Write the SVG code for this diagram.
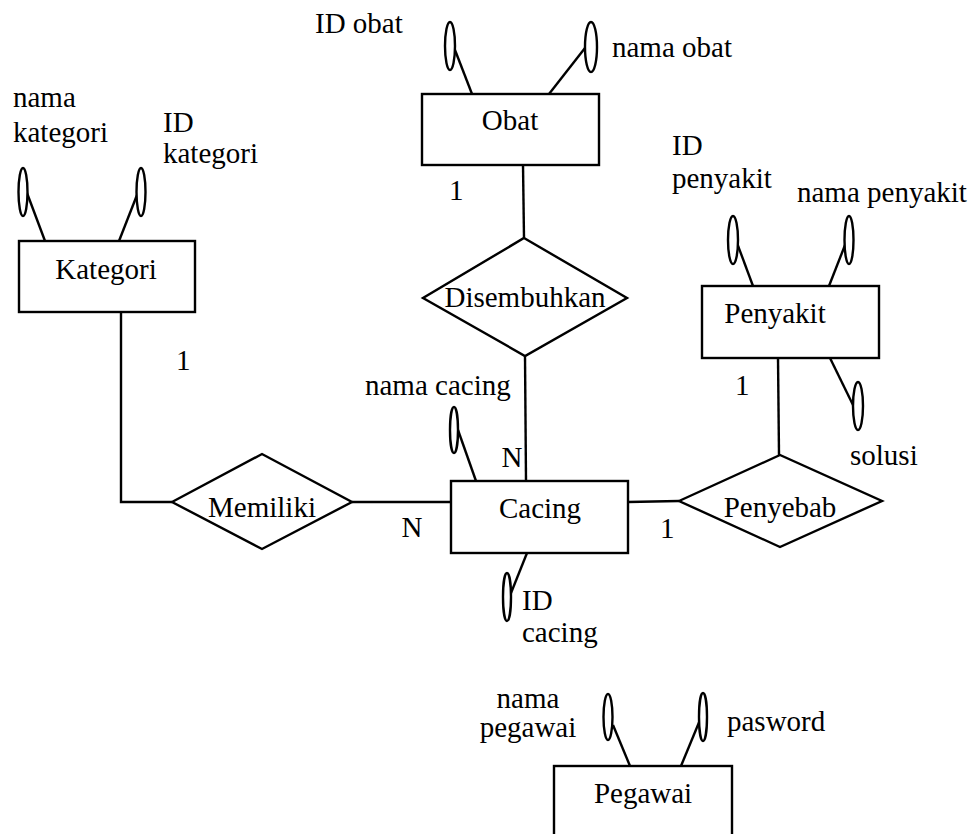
<svg xmlns="http://www.w3.org/2000/svg" width="976" height="834" viewBox="0 0 976 834">
<style>
text{font-family:'Liberation Serif','Times New Roman','DejaVu Serif',serif;font-size:29px;fill:#000}
.m{text-anchor:middle}
.box{fill:#fff;stroke:#000;stroke-width:2.4}
.rel{fill:#fff;stroke:#000;stroke-width:2.4}
.att{fill:#fff;stroke:#000;stroke-width:2.4}
.ln{fill:none;stroke:#000;stroke-width:2.4}
</style>
<rect width="976" height="834" fill="#fff"/>
<g id="connectors">
<polyline class="ln" points="121,312 121,502 172,502"/>
<line class="ln" x1="352" y1="502" x2="451" y2="502"/>
<line class="ln" x1="628" y1="502" x2="679" y2="501"/>
<line class="ln" x1="523" y1="165" x2="524" y2="238"/>
<line class="ln" x1="525" y1="356" x2="526" y2="481"/>
<line class="ln" x1="778" y1="358" x2="779" y2="455"/>
<line class="ln" x1="27" y1="193" x2="45" y2="241"/>
<line class="ln" x1="137" y1="195" x2="119" y2="241"/>
<line class="ln" x1="455" y1="50" x2="472" y2="94"/>
<line class="ln" x1="585" y1="48" x2="549" y2="94"/>
<line class="ln" x1="737" y1="243" x2="753" y2="286"/>
<line class="ln" x1="847" y1="240" x2="829" y2="286"/>
<line class="ln" x1="830" y1="358" x2="853" y2="405"/>
<line class="ln" x1="458" y1="430" x2="476" y2="481"/>
<line class="ln" x1="527" y1="553" x2="511" y2="593"/>
<line class="ln" x1="613" y1="725" x2="630" y2="766"/>
<line class="ln" x1="700" y1="720" x2="681" y2="766"/>
</g>
<g font-family="Liberation Serif, Times New Roman, serif">
<g id="kategori">
<rect class="box" x="19" y="241" width="176" height="71"/>
<text class="m" x="106" y="279">Kategori</text>
</g>
<g id="attr-nama-kategori">
<ellipse class="att" cx="23" cy="192" rx="4.5" ry="24"/>
<text x="13" y="107">nama</text>
<text x="13" y="142">kategori</text>
</g>
<g id="attr-id-kategori">
<ellipse class="att" cx="141" cy="192" rx="4.5" ry="24"/>
<text x="163" y="132">ID</text>
<text x="163" y="163">kategori</text>
</g>
<g id="obat">
<rect class="box" x="422" y="94" width="177" height="71"/>
<text class="m" x="510" y="130">Obat</text>
</g>
<g id="attr-id-obat">
<ellipse class="att" cx="450" cy="46" rx="5" ry="24"/>
<text x="315" y="33">ID obat</text>
</g>
<g id="attr-nama-obat">
<ellipse class="att" cx="591" cy="47" rx="6" ry="25"/>
<text x="612" y="57">nama obat</text>
</g>
<g id="disembuhkan">
<polygon class="rel" points="524,238 627,298 525,356 423,298"/>
<text class="m" x="525" y="307">Disembuhkan</text>
</g>
<g id="penyakit">
<rect class="box" x="702" y="286" width="177" height="72"/>
<text class="m" x="775" y="323">Penyakit</text>
</g>
<g id="attr-id-penyakit">
<ellipse class="att" cx="733" cy="240" rx="5" ry="24"/>
<text x="672" y="155">ID</text>
<text x="672" y="188">penyakit</text>
</g>
<g id="attr-nama-penyakit">
<ellipse class="att" cx="849" cy="240" rx="4.5" ry="24"/>
<text x="797" y="202">nama penyakit</text>
</g>
<g id="attr-solusi">
<ellipse class="att" cx="858" cy="406" rx="5" ry="24"/>
<text x="850" y="465">solusi</text>
</g>
<g id="memiliki">
<polygon class="rel" points="172,502 262,454 352,502 262,549"/>
<text class="m" x="262" y="517">Memiliki</text>
</g>
<g id="cacing">
<rect class="box" x="451" y="481" width="177" height="72"/>
<text class="m" x="540" y="518">Cacing</text>
</g>
<g id="attr-nama-cacing">
<ellipse class="att" cx="454" cy="430" rx="4" ry="23"/>
<text x="365" y="395">nama cacing</text>
</g>
<g id="attr-id-cacing">
<ellipse class="att" cx="507" cy="597" rx="4" ry="24"/>
<text x="522" y="610">ID</text>
<text x="522" y="642">cacing</text>
</g>
<g id="penyebab">
<polygon class="rel" points="679,501 780,455 882,501 780,547"/>
<text class="m" x="780" y="517">Penyebab</text>
</g>
<g id="pegawai">
<rect class="box" x="554" y="766" width="178" height="90"/>
<text class="m" x="643" y="803">Pegawai</text>
</g>
<g id="attr-nama-pegawai">
<ellipse class="att" cx="608" cy="717" rx="4.5" ry="23"/>
<text class="m" x="528" y="708">nama</text>
<text class="m" x="528" y="737">pegawai</text>
</g>
<g id="attr-pasword">
<ellipse class="att" cx="703" cy="717" rx="4" ry="24"/>
<text x="727" y="731">pasword</text>
</g>
<g id="cardinalities">
<text x="176" y="370">1</text>
<text x="449" y="200">1</text>
<text x="735" y="395">1</text>
<text class="m" x="412" y="537">N</text>
<text class="m" x="512" y="467">N</text>
<text x="660" y="538">1</text>
</g>
</g>
</svg>
